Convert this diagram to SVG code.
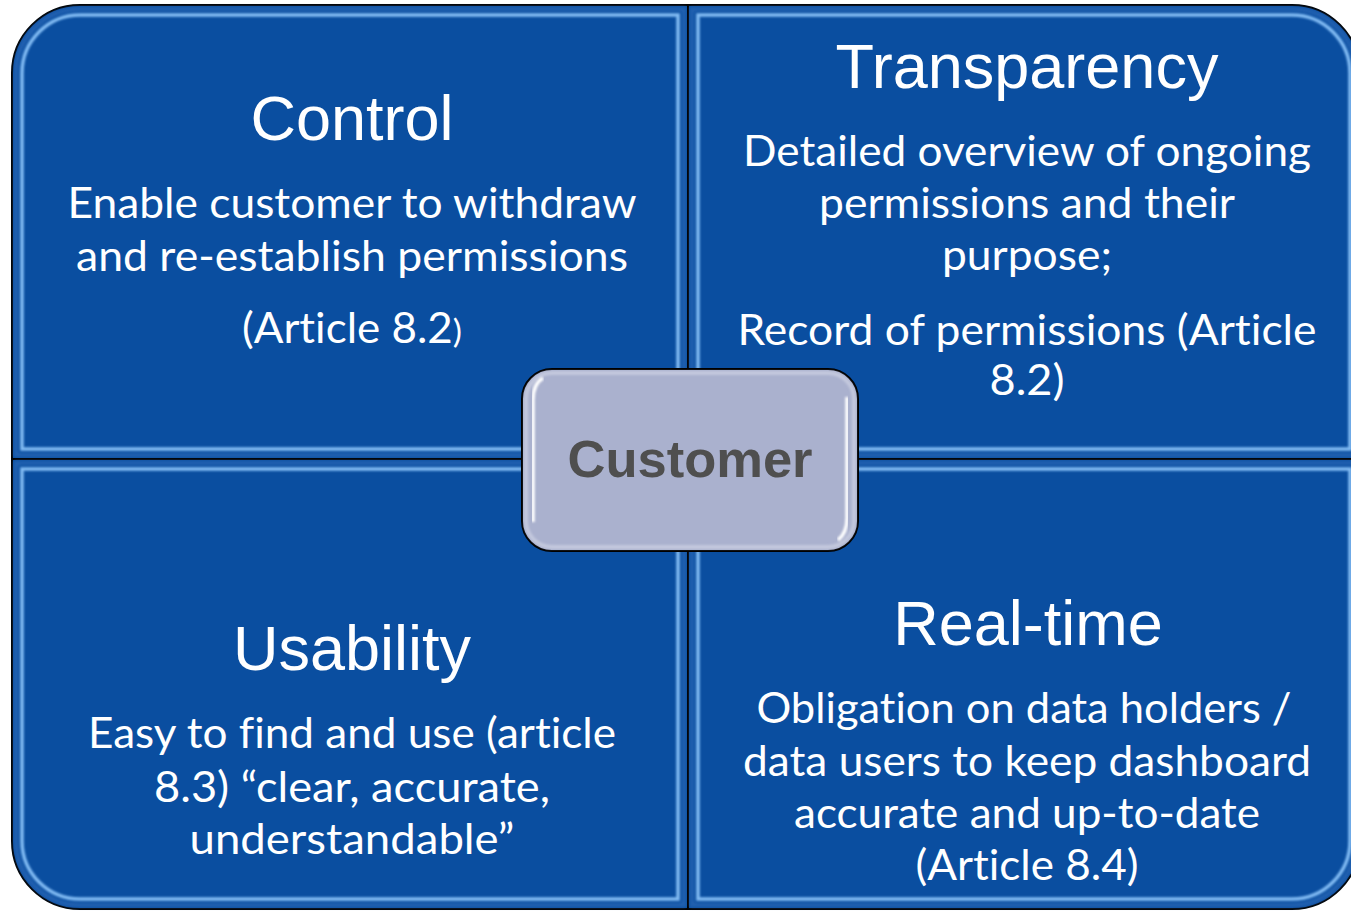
<svg xmlns="http://www.w3.org/2000/svg" width="1351" height="911" viewBox="0 0 1351 911">
<defs>
<filter id="soft" x="-5%" y="-5%" width="110%" height="110%"><feGaussianBlur stdDeviation="0.8"/></filter>
<filter id="soft2" x="-5%" y="-5%" width="110%" height="110%"><feGaussianBlur stdDeviation="1.5"/></filter>
</defs>
<style>
.quad{fill:#0a4ea0;stroke:#000;stroke-width:2}
.edge{fill:none;stroke:#2a68b6;stroke-width:5;opacity:0.7;filter:url(#soft2)}
.hl{fill:none;stroke:#82bcf4;stroke-width:3.5;filter:url(#soft)}
.title{font-family:"Liberation Sans",Arial,sans-serif;font-size:63px;fill:#fff;text-anchor:middle}
.body{font-family:Lato,"Open Sans",sans-serif;font-size:42px;fill:#fff;text-anchor:middle;font-variant-ligatures:none}
.cust{fill:#aab1ce;stroke:#000;stroke-width:2}
.custtxt{font-family:"Liberation Sans",Arial,sans-serif;font-weight:bold;font-size:52.5px;fill:#4f4f4f;text-anchor:middle}
</style>
<rect width="1351" height="911" fill="#fff"/>

<g id="control">
<path class="quad" d="M12,459 V73 A68,68 0 0 1 80,5 H688 V459 Z"/>
<path class="edge" d="M16,455 V73 A64,64 0 0 1 80,9 H684 V455 Z"/>
<path class="hl" d="M22,449 V73 A58,58 0 0 1 80,15 H678 V449 Z"/>
<text class="title" x="352" y="140">Control</text>
<text class="body" x="352" y="218" textLength="569" lengthAdjust="spacingAndGlyphs">Enable customer to withdraw</text>
<text class="body" x="352" y="271" textLength="552" lengthAdjust="spacingAndGlyphs">and re-establish permissions</text>
<text class="body" x="352" y="343" textLength="220" lengthAdjust="spacingAndGlyphs">(Article 8.2<tspan font-size="33">)</tspan></text>
</g>

<g id="transparency">
<path class="quad" d="M688,5 H1292 A68,68 0 0 1 1360,73 V459 H688 Z"/>
<path class="edge" d="M692,9 H1292 A64,64 0 0 1 1356,73 V455 H692 Z"/>
<path class="hl" d="M698,15 H1292 A58,58 0 0 1 1350,73 V449 H698 Z"/>
<text class="title" x="1027" y="88">Transparency</text>
<text class="body" x="1027" y="166" textLength="568" lengthAdjust="spacingAndGlyphs">Detailed overview of ongoing</text>
<text class="body" x="1027" y="218" textLength="416" lengthAdjust="spacingAndGlyphs">permissions and their</text>
<text class="body" x="1027" y="270" textLength="170" lengthAdjust="spacingAndGlyphs">purpose;</text>
<text class="body" x="1027" y="345" textLength="579" lengthAdjust="spacingAndGlyphs">Record of permissions (Article</text>
<text class="body" x="1027" y="395" textLength="75" lengthAdjust="spacingAndGlyphs">8.2)</text>
</g>

<g id="usability">
<path class="quad" d="M12,459 H688 V909 H80 A68,68 0 0 1 12,841 Z"/>
<path class="edge" d="M16,463 H684 V905 H80 A64,64 0 0 1 16,841 Z"/>
<path class="hl" d="M22,469 H678 V899 H80 A58,58 0 0 1 22,841 Z"/>
<text class="title" x="352" y="670">Usability</text>
<text class="body" x="352" y="748" textLength="528" lengthAdjust="spacingAndGlyphs">Easy to find and use (article</text>
<text class="body" x="352" y="802" textLength="396" lengthAdjust="spacingAndGlyphs">8.3) “clear, accurate,</text>
<text class="body" x="352" y="854" textLength="325" lengthAdjust="spacingAndGlyphs">understandable”</text>
</g>

<g id="realtime">
<path class="quad" d="M688,459 H1360 V841 A68,68 0 0 1 1292,909 H688 Z"/>
<path class="edge" d="M692,463 H1356 V841 A64,64 0 0 1 1292,905 H692 Z"/>
<path class="hl" d="M698,469 H1350 V841 A58,58 0 0 1 1292,899 H698 Z"/>
<text class="title" x="1028" y="645">Real-time</text>
<text class="body" x="1024" y="723" textLength="535" lengthAdjust="spacingAndGlyphs">Obligation on data holders /</text>
<text class="body" x="1027" y="776" textLength="568" lengthAdjust="spacingAndGlyphs">data users to keep dashboard</text>
<text class="body" x="1027" y="828" textLength="466" lengthAdjust="spacingAndGlyphs">accurate and up-to-date</text>
<text class="body" x="1027" y="880" textLength="223" lengthAdjust="spacingAndGlyphs">(Article 8.4)</text>
</g>

<g id="connectors"></g>

<g id="customer">
<rect class="cust" x="522" y="369" width="336" height="182" rx="30" ry="30"/>
<rect x="526" y="373" width="328" height="174" rx="26" ry="26" fill="none" stroke="#c3c8dd" stroke-width="4" filter="url(#soft)"/>
<path d="M533,522 V400 Q533,384 543,378" fill="none" stroke="#fff" stroke-width="3.5" filter="url(#soft)"/>
<path d="M847,397 V518 Q847,533 838,540" fill="none" stroke="#fff" stroke-width="3.5" filter="url(#soft)"/>
<text class="custtxt" x="690" y="477">Customer</text>
</g>
</svg>
